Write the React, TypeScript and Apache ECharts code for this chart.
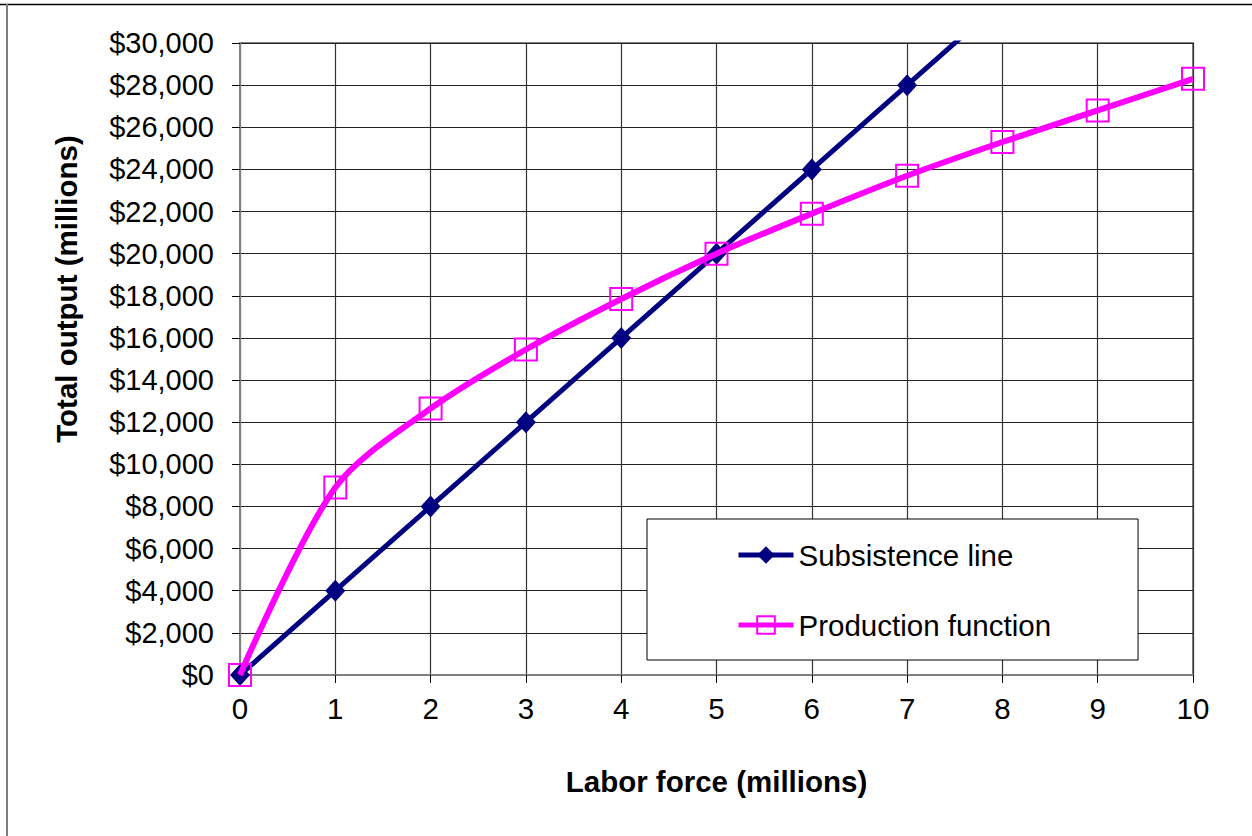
import React, { useEffect, useRef } from "react";
import * as echarts from "echarts";

const laborForce = [0, 1, 2, 3, 4, 5, 6, 7, 8, 9, 10];
const subsistenceX = [0, 1, 2, 3, 4, 5, 6, 7, 8];
const subsistenceY = [0, 4000, 8000, 12000, 16000, 20000, 24000, 28000, 32000];
const productionY = [0, 8900, 12650, 15450, 17850, 20000, 21900, 23700, 25300, 26800, 28300];
const yTicks = { min: 0, max: 30000, interval: 2000 };
const xTicks = { min: 0, max: 10, interval: 1 };
const seriesNames = ["Subsistence line", "Production function"];
const axisTitles = { x: "Labor force (millions)", y: "Total output (millions)" };

const FONT = "'Liberation Sans', Arial, sans-serif";

export default function App() {
  const ref = useRef<HTMLDivElement>(null);
  useEffect(() => {
    const chart = echarts.init(ref.current!, null, { renderer: "svg" });
    const subsData = subsistenceX.map((x, i) =>
      x > 7 ? { value: [x, subsistenceY[i]], symbol: "none" } : { value: [x, subsistenceY[i]] }
    );
    const prodData = laborForce.map((x, i) => [x, productionY[i]]);
    chart.setOption({
      animation: false,
      backgroundColor: "#fff",
      textStyle: { fontFamily: FONT },
      grid: { left: 240, top: 43, right: 59, bottom: 161, show: true, borderColor: "#808080", borderWidth: 2, backgroundColor: "transparent" },
      graphic: [
        { type: "line", shape: { x1: 0, y1: 4.5, x2: 1252, y2: 4.5 }, style: { stroke: "#000", lineWidth: 1.5 } },
        { type: "line", shape: { x1: 7, y1: 4, x2: 7, y2: 836 }, style: { stroke: "#808080", lineWidth: 2 } },
      ],
      xAxis: {
        type: "value",
        min: xTicks.min,
        max: xTicks.max,
        interval: xTicks.interval,
        name: axisTitles.x,
        nameLocation: "middle",
        nameGap: 91,
        nameTextStyle: { fontSize: 29.5, fontWeight: "bold", color: "#000", fontFamily: FONT },
        axisLine: { show: true, lineStyle: { color: "#808080", width: 2 } },
        axisTick: { show: true, inside: false, length: 8, lineStyle: { color: "#000", width: 1 } },
        axisLabel: { fontSize: 29.5, color: "#000", margin: 18, fontFamily: FONT },
        splitLine: { show: true, lineStyle: { color: "#333", width: 1.2 } },
      },
      yAxis: {
        type: "value",
        min: yTicks.min,
        max: yTicks.max,
        interval: yTicks.interval,
        name: axisTitles.y,
        nameLocation: "middle",
        nameGap: 159,
        nameRotate: 90,
        nameTextStyle: { fontSize: 29.5, fontWeight: "bold", color: "#000", fontFamily: FONT, padding: [0, 0, 0, 140] },
        axisLine: { show: true, lineStyle: { color: "#808080", width: 2 } },
        axisTick: { show: true, inside: false, length: 8, lineStyle: { color: "#000", width: 1 } },
        axisLabel: {
          fontSize: 29,
          color: "#000",
          margin: 26,
          fontFamily: FONT,
          formatter: (v: number) => "$" + v.toLocaleString("en-US"),
        },
        splitLine: { show: true, lineStyle: { color: "#222", width: 1.2 } },
      },
      legend: {
        orient: "vertical",
        left: 647,
        top: 519,
        data: seriesNames,
        backgroundColor: "#fff",
        borderColor: "#000",
        borderWidth: 1,
        borderRadius: 0,
        padding: [21, 87, 20, 89],
        itemGap: 40,
        itemWidth: 55,
        itemHeight: 22,
        itemTextGap: 4,
        lineStyle: { width: 5 },
        textStyle: { fontSize: 29.5, color: "#000", fontFamily: FONT },
      },
      series: [
        {
          name: seriesNames[0],
          type: "line",
          data: subsData,
          clip: true,
          symbol: "diamond",
          symbolSize: [20, 22],
          lineStyle: { color: "#000080", width: 5 },
          itemStyle: { color: "#000080" },
          z: 2,
        },
        {
          name: seriesNames[1],
          type: "line",
          data: prodData,
          smooth: 0.3,
          clip: false,
          symbol: "rect",
          symbolSize: 22,
          lineStyle: { color: "#ff00ff", width: 6 },
          itemStyle: { color: "rgba(255,255,255,0)", borderColor: "#ff00ff", borderWidth: 2 },
          z: 3,
        },
      ],
    });
    return () => chart.dispose();
  }, []);
  return (
    <div
      ref={ref}
      style={{ position: "fixed", left: 0, top: 0, width: 1252, height: 836, background: "#fff" }}
    />
  );
}
